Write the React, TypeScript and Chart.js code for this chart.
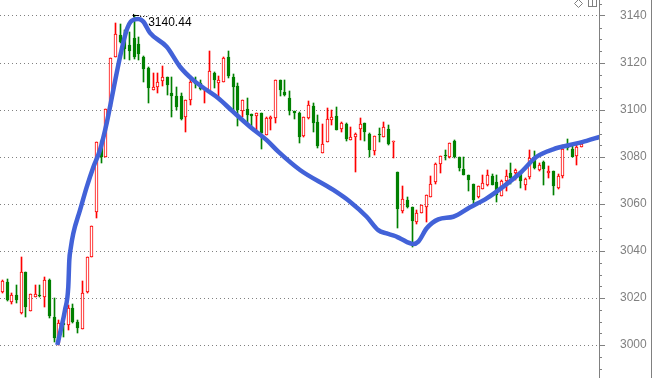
import React, { useEffect, useRef } from 'react';
import { Chart, registerables } from 'chart.js';

Chart.register(...registerables);

// Candle data (index 0..123)
const candleOpen = [
  3022.4, 3026.7, 3018.4, 3021.3, 3013.5, 3030.9, 3014.6, 3020.6, 3021.0, 3020.6,
  3027.7, 3012.1, 3000.7, 3009.5, 3008.5, 3015.6, 3009.9, 3006.7, 3022.4, 3037.4,
  3056.5, 3087.0, 3080.1, 3101.1, 3122.4, 3131.9, 3131.0, 3127.7, 3130.8, 3128.0,
  3122.4, 3117.7, 3108.4, 3109.8, 3112.2, 3114.0, 3107.2, 3105.8, 3105.8, 3096.9,
  3104.1, 3112.5, 3111.5, 3108.6, 3108.0, 3115.8, 3111.7, 3112.1, 3122.4, 3113.9,
  3110.2, 3099.7, 3100.3, 3098.2, 3097.3, 3098.7, 3089.5, 3096.2, 3096.6, 3112.6,
  3107.5, 3105.1, 3099.4, 3098.6, 3089.1, 3096.5, 3101.7, 3094.8, 3081.6, 3086.2,
  3095.9, 3097.4, 3091.8, 3094.0, 3087.1, 3088.4, 3091.8, 3094.3, 3089.8, 3082.7,
  3089.8, 3088.4, 3091.9, 3086.3, 3073.6, 3057.2, 3061.7, 3058.7, 3052.5, 3056.3,
  3058.6, 3063.1, 3069.5, 3076.9, 3080.7, 3079.8, 3087.0, 3080.0, 3075.0, 3072.5,
  3068.5, 3063.0, 3066.4, 3068.2, 3072.1, 3069.4, 3063.3, 3069.6, 3073.0, 3073.2,
  3072.8, 3068.2, 3071.5, 3080.0, 3074.6, 3077.9, 3073.2, 3074.2, 3066.8, 3071.8,
  3085.0, 3083.5, 3080.3, 3084.1,
];
const candleHigh = [
  3027.9, 3028.0, 3022.0, 3025.5, 3037.6, 3030.9, 3021.6, 3025.5, 3025.5, 3029.1,
  3028.1, 3019.9, 3010.6, 3011.0, 3017.0, 3017.3, 3010.6, 3027.2, 3037.4, 3050.6,
  3086.2, 3087.2, 3100.4, 3122.0, 3137.2, 3136.6, 3134.0, 3133.3, 3140.44, 3131.2,
  3123.0, 3118.5, 3115.7, 3115.7, 3118.9, 3114.0, 3114.0, 3109.8, 3107.2, 3104.4,
  3114.3, 3114.0, 3112.9, 3109.3, 3125.1, 3116.3, 3114.5, 3122.7, 3125.2, 3115.3,
  3111.6, 3104.4, 3105.0, 3098.2, 3098.7, 3098.7, 3097.0, 3097.6, 3112.9, 3112.9,
  3112.9, 3107.9, 3099.7, 3099.0, 3096.9, 3103.8, 3102.8, 3097.9, 3094.0, 3100.7,
  3100.0, 3101.1, 3094.8, 3094.6, 3092.9, 3090.4, 3096.5, 3094.6, 3090.4, 3088.9,
  3092.2, 3094.8, 3093.6, 3086.8, 3073.6, 3067.7, 3062.8, 3058.7, 3057.4, 3059.6,
  3063.7, 3071.9, 3077.3, 3080.4, 3083.0, 3086.1, 3087.4, 3080.0, 3080.0, 3072.5,
  3068.5, 3067.5, 3072.2, 3074.6, 3072.8, 3072.5, 3070.4, 3074.6, 3077.4, 3074.9,
  3072.8, 3071.1, 3083.1, 3082.7, 3077.4, 3078.4, 3076.0, 3074.2, 3072.8, 3085.2,
  3087.8, 3085.2, 3085.2, 3086.0,
];
const candleLow = [
  3022.0, 3018.7, 3017.6, 3018.0, 3013.2, 3012.1, 3014.6, 3020.6, 3020.6, 3016.3,
  3011.6, 3001.4, 3000.0, 3003.6, 3006.4, 3009.5, 3005.0, 3006.7, 3022.0, 3037.4,
  3054.2, 3077.3, 3080.1, 3100.7, 3122.4, 3128.4, 3121.6, 3121.3, 3121.6, 3121.3,
  3112.1, 3102.8, 3108.4, 3107.2, 3110.4, 3106.5, 3097.0, 3100.1, 3095.9, 3090.5,
  3102.3, 3109.5, 3108.6, 3102.8, 3107.8, 3109.2, 3105.7, 3112.1, 3113.5, 3098.6,
  3093.2, 3097.2, 3094.0, 3093.0, 3090.9, 3083.4, 3089.5, 3091.6, 3094.5, 3105.8,
  3105.8, 3098.0, 3096.0, 3086.1, 3088.4, 3096.2, 3090.8, 3084.0, 3081.6, 3086.2,
  3093.6, 3091.5, 3090.8, 3087.0, 3087.1, 3073.8, 3087.2, 3087.0, 3079.9, 3080.9,
  3086.2, 3088.4, 3085.1, 3079.4, 3049.9, 3056.3, 3058.2, 3041.8, 3051.3, 3056.3,
  3052.5, 3062.8, 3068.4, 3073.0, 3078.7, 3079.6, 3079.6, 3074.2, 3072.5, 3065.4,
  3059.7, 3062.6, 3066.4, 3067.5, 3067.9, 3060.9, 3063.3, 3065.7, 3068.5, 3070.4,
  3066.8, 3066.1, 3070.8, 3075.0, 3073.9, 3068.0, 3071.1, 3063.7, 3066.5, 3071.1,
  3083.1, 3080.0, 3076.7, 3084.1,
];
const candleClose = [
  3027.2, 3019.1, 3021.3, 3019.1, 3030.9, 3016.0, 3021.6, 3021.6, 3020.7, 3027.7,
  3012.3, 3003.1, 3009.5, 3008.5, 3015.6, 3009.9, 3007.1, 3022.0, 3037.4, 3050.6,
  3086.2, 3080.1, 3100.4, 3122.0, 3132.3, 3129.1, 3126.0, 3125.2, 3122.7, 3124.0,
  3117.3, 3109.2, 3109.8, 3111.9, 3114.0, 3110.5, 3105.8, 3101.3, 3096.3, 3104.4,
  3111.8, 3111.0, 3108.9, 3109.0, 3116.6, 3112.8, 3112.9, 3122.0, 3114.5, 3109.9,
  3100.0, 3104.2, 3097.9, 3097.6, 3098.7, 3090.2, 3096.6, 3096.9, 3112.6, 3108.4,
  3106.5, 3099.4, 3098.9, 3088.7, 3096.9, 3102.1, 3094.6, 3084.8, 3085.5, 3096.2,
  3097.0, 3091.5, 3094.3, 3087.7, 3088.4, 3089.8, 3094.0, 3090.8, 3083.0, 3088.9,
  3089.2, 3092.6, 3085.5, 3086.8, 3057.7, 3062.1, 3058.6, 3052.9, 3056.0, 3059.4,
  3063.7, 3068.4, 3076.9, 3080.4, 3080.3, 3085.8, 3080.0, 3075.3, 3072.5, 3070.4,
  3061.8, 3067.5, 3068.9, 3072.2, 3068.2, 3063.7, 3069.9, 3071.8, 3071.0, 3074.6,
  3069.9, 3070.6, 3079.6, 3075.3, 3076.5, 3074.9, 3074.2, 3067.5, 3071.8, 3083.5,
  3083.8, 3080.0, 3084.1, 3085.5,
];

// Smooth blue curve (x in candle-index units, y in price)
const lineX = [
  11.68, 12.25, 13.31, 14.01, 14.23, 14.52, 15.07, 16.5, 17.92, 19.32, 20.74, 22.17,
  23.57, 24.99, 26.41, 27.47, 28.87, 29.94, 31.36, 34.9, 37.73, 40.49, 43.4, 45.8,
  48.98, 52.59, 56.14, 58.6, 63.21, 70.28, 73.82, 77.37, 79.83, 81.61, 83.38, 84.44,
  87.26, 88.33, 90.11, 92.57, 95.76, 99.3, 102.84, 106.37, 109.89, 113.44, 116.96,
  120.5, 124.06, 126.88,
];
const lineY = [
  3000.0, 3005.0, 3014.9, 3024.8, 3036.2, 3041.1, 3047.5, 3057.4, 3067.2, 3075.7,
  3083.0, 3094.5, 3108.5, 3122.6, 3134.0, 3138.0, 3138.7, 3137.6, 3132.8, 3126.9,
  3118.4, 3112.8, 3108.5, 3105.1, 3099.3, 3092.9, 3087.2, 3082.3, 3074.5, 3066.0,
  3061.0, 3054.6, 3048.9, 3047.5, 3046.4, 3045.4, 3043.0, 3044.0, 3049.7, 3053.5,
  3054.6, 3058.6, 3062.4, 3067.4, 3073.1, 3080.1, 3083.3, 3085.1, 3086.9, 3088.6,
];

const yTicks = [3000, 3020, 3040, 3060, 3080, 3100, 3120, 3140];
const peakIndex = 28;
const peakLabel = '3140.44';

const RED = '#ff0000';
const GREEN = '#008000';
const GRAY = '#808080';

export default function App() {
  const ref = useRef<HTMLCanvasElement>(null);

  useEffect(() => {
    document.body.style.margin = '0';
    const canvas = ref.current;
    if (!canvas) return;
    const idx = candleOpen.map((_, i) => i);
    const up = idx.map((i) => candleClose[i] >= candleOpen[i]);

    // snap bar elements to whole pixels for crisp candles
    const snap = {
      id: 'snap',
      beforeDatasetsDraw(chart: any) {
        [1, 2].forEach((di) => {
          const meta = chart.getDatasetMeta(di);
          meta.data.forEach((el: any) => {
            el.x = Math.floor(el.x) + 0.5;
            el.y = Math.round(el.y);
            el.base = Math.round(el.base);
          });
        });
      },
    };

    const extras = {
      id: 'extras',
      afterDraw(chart: any) {
        const { ctx, chartArea, scales } = chart;
        const ys = scales.y;
        const xs = scales.x;
        ctx.save();
        ctx.strokeStyle = GRAY;
        ctx.lineWidth = 1;
        // minor ticks every 5
        for (let v = 2990; v <= 3145; v += 5) {
          if (v % 20 === 0) continue;
          const py = Math.round(ys.getPixelForValue(v)) + 0.5;
          ctx.beginPath();
          ctx.moveTo(chartArea.right, py);
          ctx.lineTo(chartArea.right + 3, py);
          ctx.stroke();
        }
        // right border
        const bx = chart.width - 0.5;
        ctx.beginPath();
        ctx.moveTo(bx, 0);
        ctx.lineTo(bx, chart.height);
        ctx.stroke();
        // icons top-right
        const cx = chartArea.right - 20.5;
        ctx.beginPath();
        ctx.moveTo(cx, -0.5);
        ctx.lineTo(cx + 4, 3.5);
        ctx.lineTo(cx, 7.5);
        ctx.lineTo(cx - 4, 3.5);
        ctx.closePath();
        ctx.stroke();
        const rx = chartArea.right - 10.5;
        ctx.strokeRect(rx, -1.5, 8, 8);
        ctx.beginPath();
        ctx.moveTo(rx + 4, -1);
        ctx.lineTo(rx + 4, 6);
        ctx.stroke();
        // peak marker and label
        const px = xs.getPixelForValue(peakIndex);
        const py = ys.getPixelForValue(candleHigh[peakIndex]);
        ctx.strokeStyle = '#000';
        ctx.beginPath();
        ctx.moveTo(Math.round(px) - 0.5, py - 1);
        ctx.lineTo(Math.round(px) - 0.5, py + 2);
        ctx.moveTo(px - 1, Math.round(py) + 0.5);
        ctx.lineTo(px + 5, Math.round(py) + 0.5);
        ctx.stroke();
        ctx.setLineDash([1, 2]);
        ctx.beginPath();
        ctx.moveTo(px + 6, Math.round(py) + 1.5);
        ctx.lineTo(px + 13, Math.round(py) + 1.5);
        ctx.stroke();
        ctx.setLineDash([]);
        ctx.fillStyle = '#000';
        ctx.font = '12px "Liberation Sans", Arial, sans-serif';
        ctx.textAlign = 'left';
        ctx.textBaseline = 'middle';
        ctx.fillText(peakLabel, px + 14, py + 8);
        ctx.restore();
      },
    };

    const chart = new Chart(canvas, {
      type: 'bar',
      data: {
        datasets: [
          {
            type: 'line',
            data: lineX.map((x, i) => ({ x, y: lineY[i] })),
            borderColor: '#4262d8',
            borderWidth: 4.5,
            pointRadius: 0,
            cubicInterpolationMode: 'monotone',
            fill: false,
            order: 0,
          } as any,
          {
            type: 'bar',
            data: idx.map((i) => ({
              x: i,
              y: [Math.min(candleOpen[i], candleClose[i]), Math.max(candleOpen[i], candleClose[i])],
            })),
            backgroundColor: idx.map((i) => (up[i] ? '#ffffff' : GREEN)),
            borderColor: idx.map((i) => (up[i] ? RED : GREEN)),
            borderWidth: 1,
            borderSkipped: false,
            barThickness: 3,
            minBarLength: 1,
            grouped: false,
            order: 1,
          } as any,
          {
            type: 'bar',
            data: idx.map((i) => ({ x: i, y: [candleLow[i], candleHigh[i]] })),
            backgroundColor: idx.map((i) => (up[i] ? RED : GREEN)),
            borderWidth: 0,
            barThickness: 1,
            grouped: false,
            order: 2,
          } as any,
        ],
      },
      options: {
        responsive: false,
        animation: false,
        events: [],
        layout: { padding: 0 },
        plugins: { legend: { display: false }, tooltip: { enabled: false } },
        scales: {
          x: {
            type: 'linear',
            display: false,
            min: -0.488,
            max: 126.69,
            offset: false,
          },
          y: {
            position: 'right',
            min: 2986,
            max: 3146.8,
            afterBuildTicks: (axis: any) => {
              axis.ticks = yTicks.map((v) => ({ value: v }));
            },
            afterFit: (s: any) => {
              s.width = 53;
              s.paddingTop = 0;
              s.paddingBottom = 0;
            },
            grid: {
              color: GRAY,
              lineWidth: 1,
              tickLength: 6,
              tickColor: GRAY,
              tickBorderDash: [],
            },
            border: { display: true, color: GRAY, width: 1, dash: [1, 3] },
            ticks: {
              color: GRAY,
              padding: 15,
              font: { family: '"Liberation Sans", Arial, sans-serif', size: 12 },
              callback: (v: any) => String(v),
            },
          },
        },
      } as any,
      plugins: [snap, extras],
    });
    return () => chart.destroy();
  }, []);

  return (
    <div style={{ position: 'fixed', left: 0, top: 0, width: 652, height: 378, background: '#fff' }}>
      <canvas ref={ref} width={652} height={378} />
    </div>
  );
}
